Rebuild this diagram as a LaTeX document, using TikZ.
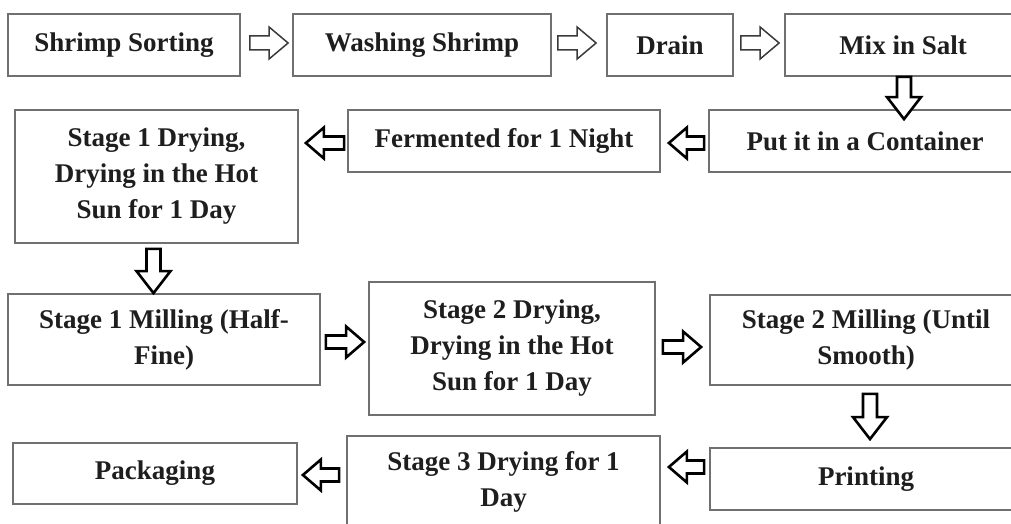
\documentclass[tikz,border=0pt]{standalone}
\usepackage{fontspec}
\setmainfont{Liberation Serif}
\usetikzlibrary{calc}
\definecolor{boxgray}{HTML}{707070}
\definecolor{txt}{HTML}{1E1E1E}
\definecolor{arrgray}{HTML}{3A3A3A}
\tikzset{
  aw/.store in=\aw, ah/.store in=\ah, al/.store in=\al,
  blk/.style={line join=miter, fill=white, to path={let \p1=(\tikztostart), \p2=(\tikztotarget),
     \n1={veclen(\x2-\x1,\y2-\y1)}, \n2={(\x2-\x1)/\n1}, \n3={(\y2-\y1)/\n1}, \n4={\n1-\al} in
     ({\x1-\aw*(\n3)*1pt}, {\y1+\aw*(\n2)*1pt}) --
     ({\x1+\n4*(\n2)*1pt-\aw*(\n3)*1pt}, {\y1+\n4*(\n3)*1pt+\aw*(\n2)*1pt}) --
     ({\x1+\n4*(\n2)*1pt-\ah*(\n3)*1pt}, {\y1+\n4*(\n3)*1pt+\ah*(\n2)*1pt}) --
     (\x2,\y2) --
     ({\x1+\n4*(\n2)*1pt+\ah*(\n3)*1pt}, {\y1+\n4*(\n3)*1pt-\ah*(\n2)*1pt}) --
     ({\x1+\n4*(\n2)*1pt+\aw*(\n3)*1pt}, {\y1+\n4*(\n3)*1pt-\aw*(\n2)*1pt}) --
     ({\x1+\aw*(\n3)*1pt}, {\y1-\aw*(\n2)*1pt}) -- cycle}},
  box/.style={draw=boxgray, line width=1.8pt, fill=white, align=center, inner sep=0pt,
     font=\fontsize{27}{36}\selectfont\bfseries, text=txt},
  thinarrow/.style={blk, draw=arrgray, line width=1.5pt, aw=7, ah=16, al=19},
  thickarrow/.style={blk, draw=black, line width=2.6pt, aw=6.5, ah=15.5, al=18},
  downarrow/.style={blk, draw=black, line width=2.6pt, aw=7, ah=17, al=22}
}
\begin{document}
\begin{tikzpicture}[x=1pt, y=-1pt]
\useasboundingbox (0,0) rectangle (1011,524);
\clip (0,0) rectangle (1011,524);
% row 1
\node[box, minimum width=232, minimum height=62] (sort) at (124,45) {Shrimp Sorting};
\node[box, minimum width=258, minimum height=62] (wash) at (422,45) {Washing Shrimp};
\node[box, minimum width=126, minimum height=62] (drain) at (670,45) {Drain};
\node[box, minimum width=236, minimum height=62] (salt) at (903,45) {Mix in Salt};
% row 2
\node[box, minimum width=312, minimum height=62] (cont) at (865,141) {Put it in a Container};
\node[box, minimum width=312, minimum height=62] (ferm) at (504,141) {Fermented for 1 Night};
\node[box, minimum width=283, minimum height=133] (dry1) at (156.5,176.5) {Stage 1 Drying,\\Drying in the Hot\\Sun for 1 Day};
% row 3
\node[box, minimum width=312, minimum height=91] (mill1) at (164,339.5) {Stage 1 Milling (Half-\\Fine)};
\node[box, minimum width=286, minimum height=133] (dry2) at (512,348.5) {Stage 2 Drying,\\Drying in the Hot\\Sun for 1 Day};
\node[box, minimum width=312, minimum height=90] (mill2) at (866,340) {Stage 2 Milling (Until\\Smooth)};
% row 4
\node[box, minimum width=312, minimum height=62] (print) at (866,479) {Printing};
\node[box, minimum width=313, minimum height=91] (dry3) at (503.5,481.5) {Stage 3 Drying for 1\\Day};
\node[box, minimum width=284, minimum height=61] (pack) at (155,473.5) {Packaging};
% connectors
\draw[thinarrow] ($(sort.east)+(9,-2)$) to ($(wash.west)+(-4,-2)$);
\draw[thinarrow] ($(wash.east)+(6,-2)$) to ($(drain.west)+(-10,-2)$);
\draw[thinarrow] ($(drain.east)+(7,-2)$) to ($(salt.west)+(-5,-2)$);
\draw[downarrow] ($(salt.south)+(1,0)$) to ($(salt.south |- cont.north)+(1,10)$);
\draw[thickarrow] ($(cont.west)+(-4,2)$) to ($(ferm.east)+(8,2)$);
\draw[thickarrow] ($(ferm.west)+(-3,2)$) to ($(dry1.east |- ferm.west)+(7,2)$);
\draw[downarrow] ($(dry1.south)+(-3,5)$) to ($(dry1.south |- mill1.north)+(-3,0)$);
\draw[thickarrow] ($(mill1.east)+(5,2.5)$) to ($(dry2.west |- mill1.east)+(-4,2.5)$);
\draw[thickarrow] ($(dry2.east |- mill2.west)+(7,7)$) to ($(mill2.west)+(-8,7)$);
\draw[downarrow] ($(mill2.south)+(4,8)$) to ($(mill2.south |- print.north)+(4,-8)$);
\draw[thickarrow] ($(print.west)+(-5,-12)$) to ($(dry3.east |- print.west)+(8,-12)$);
\draw[thickarrow] ($(dry3.west |- pack.east)+(-7,1.5)$) to ($(pack.east)+(5,1.5)$);
\end{tikzpicture}
\end{document}
